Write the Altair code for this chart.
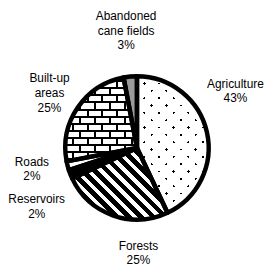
import math
import altair as alt
import pandas as pd

# ---- data ----
categories = ["Agriculture", "Forests", "Reservoirs", "Roads", "Built-up areas", "Abandoned cane fields"]
shares = [43, 25, 2, 2, 25, 3]
labels = ["Agriculture\n43%", "Forests\n25%", "Reservoirs\n2%", "Roads\n2%",
          "Built-up\nareas\n25%", "Abandoned\ncane fields\n3%"]

df = pd.DataFrame({"category": categories, "share": shares, "label": labels,
                   "order": list(range(len(categories)))})

# ---- layout / style ----
CX, CY, R = 130.5, 139.0, 72.5
W_CHART, H_CHART = 256, 259
FONT = "Liberation Sans"
LINE_H = 15
# label placement: (radius, angular offset in degrees from slice middle)
label_style = {
    "Agriculture": (115, -17.4),
    "Forests": (106.5, -20.6),
    "Reservoirs": (117.4, -8.6),
    "Roads": (108.5, 3.0),
    "Built-up areas": (104.5, -2.1),
    "Abandoned cane fields": (119.2, 0.1),
}

WHITE = "#ffffff"
BLACK = "#000000"
CLEAR = "rgba(255,255,255,0)"


def slice_bbox(a_pct, b_pct, r):
    a0 = a_pct / 100 * 2 * math.pi
    a1 = b_pct / 100 * 2 * math.pi
    angs = [a0, a1] + [k * math.pi / 2 for k in range(0, 5) if a0 < k * math.pi / 2 < a1]
    xs = [0.0] + [r * math.sin(a) for a in angs]
    ys = [0.0] + [-r * math.cos(a) for a in angs]
    return min(xs), min(ys), max(xs), max(ys)


def stripes(bbox, angle_deg, period, width, phase, fg, bg):
    minx, miny, maxx, maxy = bbox
    W = maxx - minx
    H = maxy - miny
    nx = math.cos(math.radians(angle_deg))
    ny = math.sin(math.radians(angle_deg))
    corners = [(0, 0), (W, 0), (0, H), (W, H)]
    s = [nx * x + ny * y for x, y in corners]
    i = min(range(4), key=lambda k: s[k])
    smin = s[i]
    L = max(s) - smin
    S = nx * nx * W * W + ny * ny * H * H
    k = L / S
    p1 = (corners[i][0] / W, corners[i][1] / H)
    p2 = (p1[0] + k * nx * W, p1[1] + k * ny * H)
    stops = [(0.0, bg)]
    m0 = math.floor((smin - width - phase) / period)
    m1 = math.ceil((smin + L + width - phase) / period)
    for m in range(m0, m1 + 1):
        c = phase + m * period
        a = (c - width / 2 - smin) / L
        b = (c + width / 2 - smin) / L
        if b <= 0 or a >= 1:
            continue
        a = max(a, 0.0)
        b = min(b, 1.0)
        stops += [(a, bg), (a, fg), (b, fg), (b, bg)]
    stops.append((1.0, bg))
    out, last = [], 0.0
    for off, col in stops:
        off = max(round(off, 5), last)
        last = off
        out.append({"offset": off, "color": col})
    x2 = p2[0] if abs(p2[0]) > 1e-9 else 1e-6
    return {"gradient": "linear", "x1": p1[0], "y1": p1[1], "x2": x2, "y2": p2[1], "stops": out}


# cumulative positions (for the pattern bounding boxes only)
cum = []
acc = 0
for v in shares:
    cum.append((acc, acc + v))
    acc += v
bbox = {c: slice_bbox(a, b, R) for c, (a, b) in zip(categories, cum)}

b_len = math.hypot(7.5, 7.2)
brick_angle = math.degrees(math.atan2(7.5, -7.2))
brick_period = 15 * 7.2 / b_len

fills = {
    "Agriculture": [
        stripes(bbox["Agriculture"], 45, 10.5, 1.9, 0, BLACK, WHITE),
        stripes(bbox["Agriculture"], -45, 10.5, 1.9, 0, CLEAR, WHITE),
    ],
    "Forests": [stripes(bbox["Forests"], -45, 8.7, 4.8, 0, BLACK, WHITE)],
    "Reservoirs": [BLACK],
    "Roads": [WHITE],
    "Built-up areas": [
        stripes(bbox["Built-up areas"], 0, 7.5, 2.0, 0, BLACK, WHITE),
        stripes(bbox["Built-up areas"], brick_angle, brick_period, brick_period / 2, 0, CLEAR, WHITE),
        stripes(bbox["Built-up areas"], 90, 7.2, 2.0, 3.6, BLACK, CLEAR),
    ],
    "Abandoned cane fields": ["#9b9b9b"],
}

theta_scale = alt.Scale(domain=[0, 100], range=[0, 2 * math.pi], nice=False)

base = (
    alt.Chart(df)
    .transform_window(cum="sum(share)", sort=[alt.SortField("order")])
    .transform_calculate(start="datum.cum - datum.share", mid="datum.cum - datum.share / 2")
)

arc_enc = dict(
    theta=alt.Theta("start:Q", scale=theta_scale, stack=False),
    theta2=alt.Theta2("cum:Q"),
    x=alt.value(CX),
    y=alt.value(CY),
)

layers = []
for cat in categories:
    for f in fills[cat]:
        layers.append(
            base.transform_filter(alt.datum.category == cat)
            .mark_arc(radius=R, fill=f, strokeWidth=0)
            .encode(**arc_enc)
        )

layers.append(
    base.mark_arc(radius=R, fill=WHITE, fillOpacity=0, stroke=BLACK, strokeWidth=4.5,
                  strokeJoin="round").encode(**arc_enc)
)

for cat, lab in zip(categories, labels):
    r, off = label_style[cat]
    n_lines = lab.count("\n") + 1
    layers.append(
        base.transform_filter(alt.datum.category == cat)
        .mark_text(radius=r, thetaOffset=math.radians(off), font=FONT, fontSize=12,
                   lineBreak="\n", lineHeight=LINE_H, align="center", baseline="middle",
                   dy=-(n_lines - 1) * LINE_H / 2, color=BLACK)
        .encode(
            theta=alt.Theta("mid:Q", scale=theta_scale, stack=False),
            text="label:N",
            x=alt.value(CX),
            y=alt.value(CY),
        )
    )

chart = (
    alt.layer(*layers)
    .properties(width=W_CHART, height=H_CHART, padding=0)
    .configure_view(stroke=None)
)

chart.save("out.html", embed_options={"renderer": "svg", "actions": False})
